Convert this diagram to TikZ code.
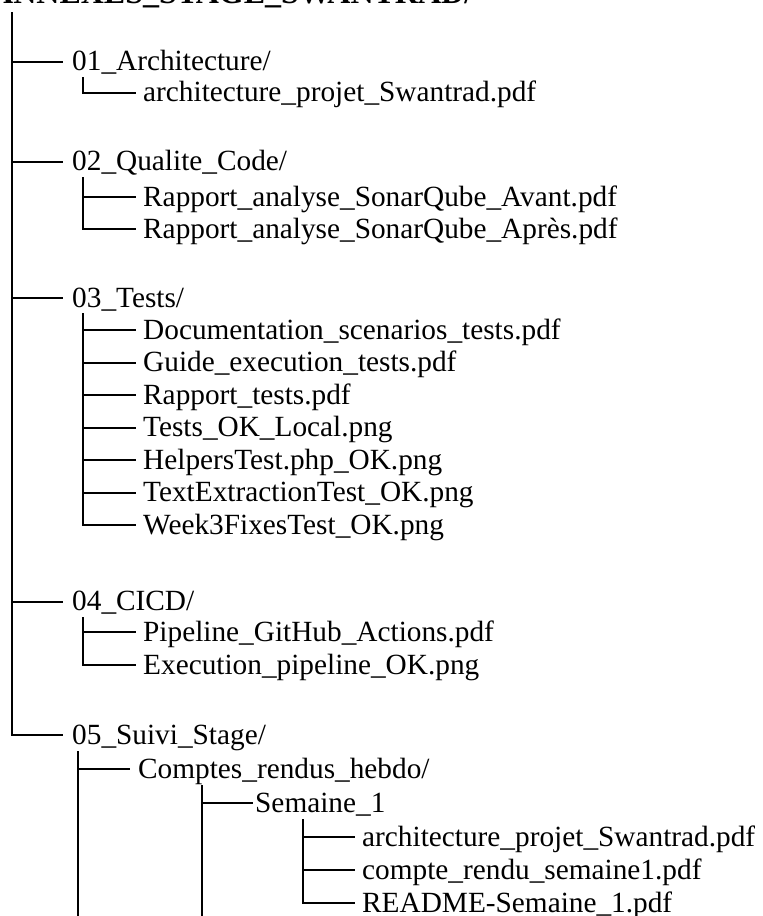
\documentclass[tikz,border=0pt]{standalone}
\usepackage{fontspec}
\setmainfont{Liberation Serif}
\newcommand\tentry[6]{% name, x of vertical, y of branch, branch length, gap, text
  \coordinate (#1-j) at (#2,#3);
  \node[lbl] (#1) at (#2+#4+#5,#3+9) {#6};
  \draw[tree] (#1-j) -- ++(#4,0);
}
\begin{document}
\begin{tikzpicture}[x=1pt,y=-1pt,
  lbl/.style={anchor=base west,inner sep=0pt,font=\fontsize{29.3}{30}\selectfont},
  tree/.style={line width=2pt},
  vline/.style={line width=2.2pt,line cap=rect},
]
\useasboundingbox (0,0) rectangle (763,916);
\node[anchor=base west,inner sep=0pt,font=\bfseries\fontsize{32}{32}\selectfont] (title) at (-10,3) {ANNEXES\_STAGE\_SWANTRAD/};

% trunk
\coordinate (t0) at (12,13);
\coordinate (t1) at (12,735);
\draw[vline] (t0) -- (t1);
\tentry{a01}{12}{61.5}{51}{9}{01\_Architecture/}
\tentry{a02}{12}{161.5}{51}{9}{02\_Qualite\_Code/}
\tentry{a03}{12}{298}{51}{9}{03\_Tests/}
\tentry{a04}{12}{601.5}{51}{9}{04\_CICD/}
\tentry{a05}{12}{735}{51}{9}{05\_Suivi\_Stage/}

% 01
\coordinate (v1s) at (83,78);
\draw[vline] (v1s) -- (83,92.5);
\tentry{b11}{83}{92.5}{53}{7}{architecture\_projet\_Swantrad.pdf}

% 02
\coordinate (v2s) at (83,178);
\draw[vline] (v2s) -- (83,229);
\tentry{b21}{83}{197}{53}{7}{Rapport\_analyse\_SonarQube\_Avant.pdf}
\tentry{b22}{83}{229}{53}{7}{Rapport\_analyse\_SonarQube\_Après.pdf}

% 03
\coordinate (v3s) at (83,314.5);
\draw[vline] (v3s) -- (83,525);
\tentry{b31}{83}{330}{53}{7}{Documentation\_scenarios\_tests.pdf}
\tentry{b32}{83}{362.5}{53}{7}{Guide\_execution\_tests.pdf}
\tentry{b33}{83}{395}{53}{7}{Rapport\_tests.pdf}
\tentry{b34}{83}{427.5}{53}{7}{Tests\_OK\_Local.png}
\tentry{b35}{83}{460}{53}{7}{HelpersTest.php\_OK.png}
\tentry{b36}{83}{492.5}{53}{7}{TextExtractionTest\_OK.png}
\tentry{b37}{83}{525}{53}{7}{Week3FixesTest\_OK.png}

% 04
\coordinate (v4s) at (83,618);
\draw[vline] (v4s) -- (83,665);
\tentry{b41}{83}{632}{53}{7}{Pipeline\_GitHub\_Actions.pdf}
\tentry{b42}{83}{665}{53}{7}{Execution\_pipeline\_OK.png}

% 05
\coordinate (v5s) at (78,752);
\coordinate (v5e) at (78,920);
\draw[vline] (v5s) -- (v5e);
\tentry{c1}{78}{769}{52}{8}{Comptes\_rendus\_hebdo/}

\coordinate (v6s) at (202,786);
\coordinate (v6e) at (202,920);
\draw[vline] (v6s) -- (v6e);
\tentry{d1}{202}{803}{51}{2}{Semaine\_1}

\coordinate (v7s) at (303,820);
\draw[vline] (v7s) -- (303,903);
\tentry{e1}{303}{837}{52}{7}{architecture\_projet\_Swantrad.pdf}
\tentry{e2}{303}{870}{52}{7}{compte\_rendu\_semaine1.pdf}
\tentry{e3}{303}{903}{52}{7}{README-Semaine\_1.pdf}
\end{tikzpicture}
\end{document}
